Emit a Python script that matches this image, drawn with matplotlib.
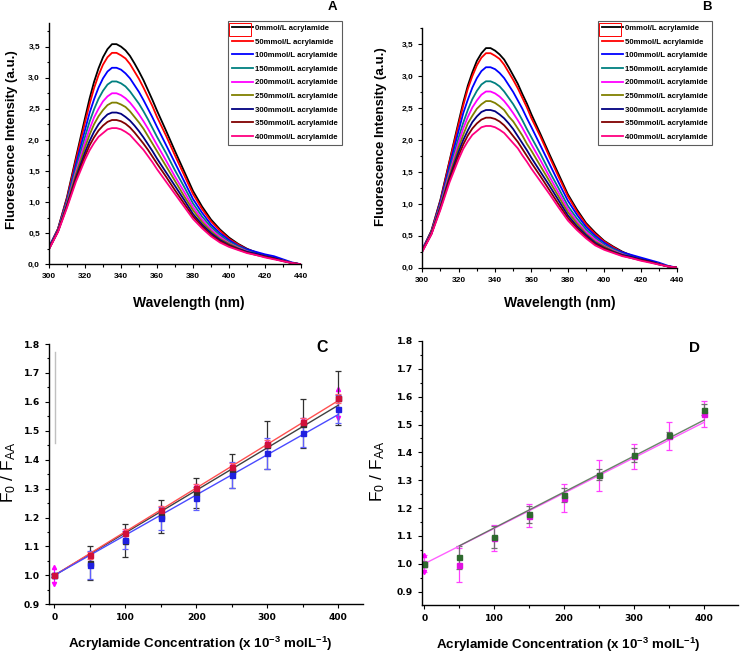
import numpy as np
import matplotlib
matplotlib.use("Agg")
import matplotlib.pyplot as plt
from matplotlib.ticker import MultipleLocator, FuncFormatter
from matplotlib.patches import Rectangle

plt.rcParams['font.family'] = ['Liberation Sans', 'DejaVu Sans']
plt.rcParams['mathtext.fontset'] = 'custom'
plt.rcParams['mathtext.rm'] = 'Liberation Sans'
plt.rcParams['mathtext.it'] = 'Liberation Sans:italic'
plt.rcParams['mathtext.bf'] = 'Liberation Sans:bold'

# ---- spectra (panels A and B) ----
wavelength = [300, 305, 310, 315, 320, 322.5, 325, 327.5, 330, 332.5, 335, 337.5, 340, 342.5,
              345, 347.5, 350, 352.5, 355, 357.5, 360, 365, 370, 375, 380, 385, 390, 395,
              400, 405, 410, 415, 420, 425, 430, 435, 440]

labels = ["0mmol/L acrylamide", "50mmol/L acrylamide", "100mmol/L acrylamide",
          "150mmol/L acrylamide", "200mmol/L acrylamide", "250mmol/L acrylamide",
          "300mmol/L acrylamide", "350mmol/L acrylamide", "400mmol/L acrylamide"]
colors = ["#000000", "#ff0000", "#0000ff", "#008080", "#ff00ff",
          "#808000", "#000080", "#800000", "#ff0080"]

a_0 = [0.27, 0.57, 1.08, 1.72, 2.35, 2.66, 2.93, 3.15, 3.33, 3.46, 3.54, 3.54, 3.50, 3.44,
       3.35, 3.23, 3.10, 2.96, 2.80, 2.64, 2.47, 2.15, 1.82, 1.50, 1.18, 0.93, 0.72, 0.56,
       0.43, 0.33, 0.25, 0.19, 0.14, 0.10, 0.06, 0.02, 0.00]
a_50 = [0.27, 0.57, 1.06, 1.68, 2.28, 2.57, 2.83, 3.04, 3.21, 3.33, 3.40, 3.40, 3.36, 3.31,
        3.22, 3.10, 2.98, 2.84, 2.69, 2.54, 2.37, 2.07, 1.75, 1.44, 1.13, 0.89, 0.69, 0.54,
        0.41, 0.32, 0.24, 0.19, 0.14, 0.10, 0.06, 0.02, 0.00]
a_100 = [0.28, 0.56, 1.03, 1.61, 2.16, 2.43, 2.65, 2.84, 2.99, 3.10, 3.16, 3.16, 3.13, 3.07,
         2.99, 2.88, 2.77, 2.64, 2.50, 2.36, 2.21, 1.92, 1.63, 1.34, 1.05, 0.83, 0.64, 0.50,
         0.39, 0.30, 0.24, 0.20, 0.16, 0.13, 0.08, 0.03, 0.00]
a_150 = [0.26, 0.55, 1.01, 1.55, 2.05, 2.29, 2.49, 2.66, 2.79, 2.89, 2.94, 2.94, 2.91, 2.86,
         2.78, 2.68, 2.58, 2.46, 2.33, 2.19, 2.05, 1.79, 1.51, 1.25, 0.98, 0.77, 0.60, 0.47,
         0.36, 0.29, 0.22, 0.17, 0.13, 0.09, 0.06, 0.02, 0.00]
a_200 = [0.25, 0.54, 0.98, 1.49, 1.96, 2.17, 2.36, 2.50, 2.62, 2.70, 2.75, 2.75, 2.72, 2.67,
         2.60, 2.51, 2.41, 2.30, 2.18, 2.05, 1.92, 1.67, 1.41, 1.17, 0.92, 0.72, 0.56, 0.44,
         0.34, 0.27, 0.21, 0.16, 0.12, 0.09, 0.06, 0.02, 0.00]
a_250 = [0.25, 0.54, 0.97, 1.45, 1.88, 2.08, 2.25, 2.38, 2.48, 2.56, 2.60, 2.60, 2.57, 2.53,
         2.46, 2.37, 2.28, 2.18, 2.06, 1.94, 1.82, 1.58, 1.34, 1.10, 0.87, 0.68, 0.53, 0.41,
         0.33, 0.26, 0.20, 0.16, 0.12, 0.09, 0.06, 0.02, 0.00]
a_300 = [0.25, 0.53, 0.95, 1.40, 1.80, 1.98, 2.13, 2.25, 2.34, 2.41, 2.44, 2.44, 2.42, 2.37,
         2.31, 2.23, 2.14, 2.04, 1.93, 1.82, 1.70, 1.48, 1.26, 1.04, 0.81, 0.64, 0.50, 0.39,
         0.31, 0.25, 0.20, 0.17, 0.13, 0.10, 0.06, 0.02, 0.00]
a_350 = [0.25, 0.53, 0.93, 1.37, 1.74, 1.91, 2.04, 2.15, 2.23, 2.29, 2.32, 2.32, 2.30, 2.26,
         2.20, 2.12, 2.03, 1.94, 1.84, 1.73, 1.62, 1.41, 1.19, 0.98, 0.77, 0.61, 0.47, 0.37,
         0.30, 0.24, 0.19, 0.15, 0.12, 0.09, 0.05, 0.02, 0.00]
a_400 = [0.24, 0.52, 0.91, 1.33, 1.68, 1.83, 1.95, 2.05, 2.11, 2.17, 2.19, 2.19, 2.17, 2.13,
         2.08, 2.00, 1.92, 1.84, 1.74, 1.64, 1.53, 1.33, 1.13, 0.93, 0.73, 0.58, 0.45, 0.35,
         0.28, 0.23, 0.18, 0.15, 0.11, 0.08, 0.05, 0.02, 0.00]

b_0 = [0.28, 0.58, 1.07, 1.68, 2.29, 2.59, 2.85, 3.06, 3.24, 3.36, 3.44, 3.44, 3.40, 3.34,
       3.26, 3.14, 3.01, 2.88, 2.72, 2.57, 2.40, 2.09, 1.77, 1.46, 1.15, 0.91, 0.70, 0.55,
       0.42, 0.33, 0.25, 0.19, 0.14, 0.10, 0.06, 0.02, 0.00]
b_50 = [0.28, 0.57, 1.05, 1.66, 2.25, 2.54, 2.80, 3.00, 3.17, 3.29, 3.36, 3.36, 3.32, 3.27,
        3.18, 3.06, 2.94, 2.81, 2.66, 2.51, 2.34, 2.05, 1.73, 1.42, 1.12, 0.88, 0.68, 0.53,
        0.41, 0.32, 0.24, 0.19, 0.14, 0.10, 0.06, 0.02, 0.00]
b_100 = [0.29, 0.56, 1.03, 1.60, 2.15, 2.42, 2.63, 2.82, 2.97, 3.08, 3.14, 3.14, 3.11, 3.05,
         2.97, 2.86, 2.75, 2.62, 2.49, 2.34, 2.20, 1.91, 1.62, 1.33, 1.05, 0.83, 0.64, 0.50,
         0.39, 0.30, 0.24, 0.20, 0.16, 0.12, 0.08, 0.03, 0.00]
b_150 = [0.27, 0.55, 1.00, 1.54, 2.04, 2.27, 2.47, 2.64, 2.77, 2.87, 2.92, 2.92, 2.89, 2.84,
         2.76, 2.66, 2.56, 2.44, 2.31, 2.17, 2.04, 1.78, 1.50, 1.24, 0.97, 0.77, 0.60, 0.47,
         0.36, 0.29, 0.22, 0.17, 0.13, 0.09, 0.06, 0.02, 0.00]
b_200 = [0.27, 0.54, 0.98, 1.49, 1.96, 2.18, 2.36, 2.51, 2.62, 2.71, 2.76, 2.76, 2.73, 2.68,
         2.61, 2.52, 2.42, 2.31, 2.19, 2.06, 1.93, 1.68, 1.42, 1.17, 0.92, 0.72, 0.56, 0.44,
         0.34, 0.27, 0.21, 0.16, 0.12, 0.09, 0.06, 0.02, 0.00]
b_250 = [0.27, 0.54, 0.97, 1.45, 1.89, 2.08, 2.26, 2.38, 2.49, 2.56, 2.61, 2.61, 2.58, 2.53,
         2.47, 2.37, 2.29, 2.18, 2.07, 1.94, 1.83, 1.59, 1.35, 1.11, 0.87, 0.69, 0.53, 0.41,
         0.33, 0.26, 0.20, 0.16, 0.12, 0.09, 0.06, 0.02, 0.00]
b_300 = [0.26, 0.53, 0.95, 1.41, 1.82, 2.00, 2.15, 2.28, 2.37, 2.44, 2.47, 2.47, 2.45, 2.40,
         2.34, 2.26, 2.17, 2.06, 1.95, 1.84, 1.72, 1.50, 1.28, 1.05, 0.82, 0.65, 0.51, 0.39,
         0.31, 0.25, 0.20, 0.17, 0.13, 0.10, 0.06, 0.02, 0.00]
b_350 = [0.26, 0.53, 0.93, 1.38, 1.76, 1.93, 2.07, 2.18, 2.26, 2.32, 2.35, 2.35, 2.33, 2.29,
         2.23, 2.15, 2.06, 1.97, 1.86, 1.75, 1.64, 1.43, 1.21, 0.99, 0.78, 0.62, 0.48, 0.37,
         0.30, 0.24, 0.19, 0.15, 0.12, 0.09, 0.05, 0.02, 0.00]
b_400 = [0.25, 0.52, 0.91, 1.34, 1.70, 1.86, 1.98, 2.08, 2.14, 2.20, 2.22, 2.22, 2.20, 2.16,
         2.11, 2.03, 1.95, 1.87, 1.76, 1.66, 1.55, 1.35, 1.15, 0.94, 0.74, 0.59, 0.46, 0.35,
         0.28, 0.23, 0.18, 0.15, 0.11, 0.08, 0.05, 0.02, 0.00]

spectra_a = [a_0, a_50, a_100, a_150, a_200, a_250, a_300, a_350, a_400]
spectra_b = [b_0, b_50, b_100, b_150, b_200, b_250, b_300, b_350, b_400]

# ---- Stern-Volmer (panels C and D) ----
conc = [0, 50, 100, 150, 200, 250, 300, 350, 400]

c_black = [1.00, 1.043, 1.12, 1.205, 1.285, 1.361, 1.451, 1.525, 1.614]
c_black_err = [0.005, 0.058, 0.057, 0.057, 0.052, 0.06, 0.083, 0.085, 0.094]
c_red = [1.00, 1.070, 1.148, 1.226, 1.303, 1.375, 1.455, 1.530, 1.612]
c_red_err = [0.005, 0.012, 0.012, 0.015, 0.012, 0.012, 0.012, 0.015, 0.015]
c_blue = [1.00, 1.036, 1.122, 1.197, 1.266, 1.347, 1.422, 1.493, 1.575]
c_blue_err = [0.005, 0.05, 0.03, 0.04, 0.04, 0.045, 0.053, 0.05, 0.048]
c_mag = [1.00, 1.07, 1.148, 1.226, 1.303, 1.375, 1.455, 1.530, 1.595]
c_mag_err = [0.03, 0.01, 0.01, 0.01, 0.01, 0.01, 0.01, 0.01, 0.05]
ksv_c_red, ksv_c_black, ksv_c_blue = 0.00151, 0.00147, 0.00139

d_green = [1.00, 1.023, 1.095, 1.178, 1.246, 1.320, 1.390, 1.462, 1.553]
d_green_err = [0.01, 0.04, 0.04, 0.03, 0.025, 0.02, 0.024, 0.01, 0.02]
d_mag = [1.00, 0.995, 1.093, 1.173, 1.235, 1.318, 1.386, 1.459, 1.538]
d_mag_err = [0.03, 0.06, 0.047, 0.042, 0.05, 0.056, 0.044, 0.05, 0.048]
ksv_d_green, ksv_d_mag = 0.00129, 0.00127

W, H = 740, 653
fig = plt.figure(figsize=(7.4, 6.53), dpi=100)


def fax(x0, y_top, x1, y_bot):
    return fig.add_axes([x0 / W, 1 - y_bot / H, (x1 - x0) / W, (y_bot - y_top) / H])


comma = FuncFormatter(lambda v, p: f"{v:.1f}".replace('.', ','))
point1 = FuncFormatter(lambda v, p: f"{v:.1f}")


def style(ax, tsize, family=None):
    for s in ['top', 'right']:
        ax.spines[s].set_visible(False)
    for s in ['left', 'bottom']:
        ax.spines[s].set_linewidth(1.0)
    ax.tick_params(which='both', direction='out', width=0.8, labelsize=tsize)
    ax.tick_params(which='major', length=3)
    ax.tick_params(which='minor', length=1.8)
    for t in ax.get_xticklabels() + ax.get_yticklabels():
        t.set_fontweight('bold')
        if family:
            t.set_family(family)


def spectra_panel(ax, data, ytop, box):
    for y, c, lab in zip(data, colors, labels):
        ax.plot(wavelength, y, color=c, lw=1.3, label=lab)
    ax.set_xlim(300, 440)
    ax.set_ylim(0, ytop)
    ax.xaxis.set_major_locator(MultipleLocator(20))
    ax.xaxis.set_minor_locator(MultipleLocator(10))
    ax.yaxis.set_major_locator(MultipleLocator(0.5))
    ax.yaxis.set_minor_locator(MultipleLocator(0.25))
    ax.yaxis.set_major_formatter(comma)
    style(ax, 6)
    ax.set_xlabel("Wavelength (nm)", fontsize=10, fontweight='bold')
    ax.set_ylabel("Fluorescence Intensity (a.u.)", fontsize=9.5, fontweight='bold')
    leg = ax.legend(loc='upper left', bbox_to_anchor=(box[0] / W, 1 - box[1] / H),
                    bbox_transform=fig.transFigure, prop={'size': 5.6, 'weight': 'bold'},
                    frameon=True, fancybox=False, handlelength=2.7, handletextpad=0.3,
                    labelspacing=0.79, borderpad=0.5, borderaxespad=0)
    leg.get_frame().set_edgecolor('#333333')
    leg.get_frame().set_linewidth(0.8)
    # small red selection box around the first legend handle
    fig.add_artist(Rectangle(((box[0] + 1.5) / W, 1 - (box[1] + 15) / H), 21.5 / W, 12.3 / H,
                             transform=fig.transFigure, fill=False, ec='red', lw=0.7))


# Panel A
axA = fax(49, 23, 301, 264.3)
spectra_panel(axA, spectra_a, 3.88, (227.7, 20.7))
axA.xaxis.set_label_coords(0.554, -0.13)
axA.yaxis.set_label_coords(-0.123, 0.516)
fig.text(332.5 / W, 1 - 7.5 / H, "A", fontsize=9.5, fontweight='bold', ha='center', va='center')

# Panel B
axB = fax(422.3, 28.3, 677, 267.7)
spectra_panel(axB, spectra_b, 3.75, (597.7, 20.7))
axB.xaxis.set_label_coords(0.541, -0.12)
axB.yaxis.set_label_coords(-0.14, 0.547)
fig.text(706.7 / W, 1 - 7.5 / H, "B", fontsize=9.5, fontweight='bold', ha='center', va='center')

line_x = np.array([0, 400])
ebkw = dict(capsize=2.2, elinewidth=0.9, capthick=0.9, ms=3.6, ls='none')
xlab = r"Acrylamide Concentration (x 10$^{\mathbf{-3}}$ molL$^{\mathbf{-1}}$)"
ylab = r"F$_\mathrm{0}$ / F$_\mathrm{AA}$"

# Panel C
axC = fax(49, 344, 363, 604.3)
axC.plot([1, 1], [1.458, 1.773], color='#c0c0c0', lw=1.0)
axC.errorbar(conc, c_mag, yerr=c_mag_err, fmt='none', ecolor='#ff00ff', elinewidth=0.9)
axC.plot(conc, np.array(c_mag) + np.array(c_mag_err), '^', color='#ff00ff', ms=3)
axC.plot(conc, np.array(c_mag) - np.array(c_mag_err), 'v', color='#ff00ff', ms=3)
axC.errorbar(conc, c_black, yerr=c_black_err, fmt='s', color='#303030', **ebkw)
axC.errorbar(conc, c_blue, yerr=c_blue_err, fmt='s', color='#2020e0', ecolor='#6060ff', **ebkw)
axC.errorbar(conc, c_red, yerr=c_red_err, fmt='s', color='#d0103a', ecolor='#ff6070', **ebkw)
axC.plot(line_x, 1 + ksv_c_black * line_x, color='#404040', lw=1.0)
axC.plot(line_x, 1 + ksv_c_red * line_x, color='#ff5050', lw=1.0)
axC.plot(line_x, 1 + ksv_c_blue * line_x, color='#4a4aff', lw=1.0)
axC.set_xlim(-7.5, 435)
axC.set_ylim(0.9, 1.8)
axC.xaxis.set_major_locator(MultipleLocator(100))
axC.xaxis.set_minor_locator(MultipleLocator(50))
axC.yaxis.set_major_locator(MultipleLocator(0.1))
axC.yaxis.set_minor_locator(MultipleLocator(0.05))
axC.yaxis.set_major_formatter(point1)
style(axC, 6.6, 'DejaVu Sans')
axC.set_xlabel(xlab, fontsize=9.6, fontweight='bold')
axC.set_ylabel(ylab, fontsize=12.5)
axC.xaxis.set_label_coords(0.483, -0.118)
axC.yaxis.set_label_coords(-0.098, 0.509)
fig.text(322.5 / W, 1 - 347.5 / H, "C", fontsize=11.5, fontweight='bold', ha='center', va='center')

# Panel D
axD = fax(421.7, 341, 738.3, 605)
axD.errorbar(conc, d_mag, yerr=d_mag_err, fmt='s', color='#e010e0', ecolor='#ff40ff', **ebkw)
axD.plot(conc[:1], [d_mag[0] + d_mag_err[0]], '^', color='#ff00ff', ms=3)
axD.plot(conc[:1], [d_mag[0] - d_mag_err[0]], 'v', color='#ff00ff', ms=3)
axD.errorbar(conc, d_green, yerr=d_green_err, fmt='s', color='#2f6a2f', ecolor='#707070', **ebkw)
axD.plot(line_x, 1 + ksv_d_mag * line_x, color='#ff60ff', lw=1.0)
green_x = np.array(conc[1:])
axD.plot(green_x, 1 + ksv_d_green * green_x, color='#4e6e4e', lw=1.0, alpha=0.85)
axD.set_xlim(-3.7, 449)
axD.set_ylim(0.852, 1.80)
axD.xaxis.set_major_locator(MultipleLocator(100))
axD.xaxis.set_minor_locator(MultipleLocator(50))
axD.yaxis.set_major_locator(MultipleLocator(0.1))
axD.yaxis.set_minor_locator(MultipleLocator(0.05))
axD.yaxis.set_major_formatter(point1)
style(axD, 6.6, 'DejaVu Sans')
axD.set_xlabel(xlab, fontsize=9.6, fontweight='bold')
axD.set_ylabel(ylab, fontsize=12.5)
axD.xaxis.set_label_coords(0.463, -0.118)
axD.yaxis.set_label_coords(-0.111, 0.505)
fig.text(694 / W, 1 - 348 / H, "D", fontsize=11, fontweight='bold', ha='center', va='center')

fig.savefig("out.png", dpi=100)
